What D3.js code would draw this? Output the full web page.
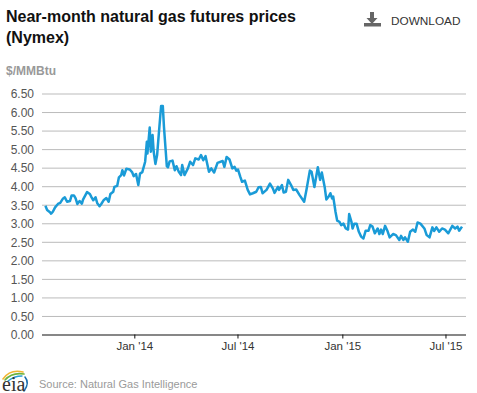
<!DOCTYPE html>
<html><head><meta charset="utf-8">
<script src="https://cdn.jsdelivr.net/npm/d3@7"></script>
<style>html,body{margin:0;padding:0;background:#fff;overflow:hidden}svg{display:block;font-family:"Liberation Sans",Arial,sans-serif}</style>
</head><body><svg id="c" width="477" height="393"></svg>
<script>
const titleLines=["Near-month natural gas futures prices","(Nymex)"];
const unitLabel="$/MMBtu";
const sourceLabel="Source: Natural Gas Intelligence";
const seriesStart="2013-07-29";
const dayOffsets=[0,3,8,10,13,17,22,26,31,34,38,43,46,50,53,56,60,64,66,73,78,81,84,88,91,95,98,102,107,111,114,119,121,126,129,133,135,138,142,148,152,155,159,163,166,170,175,178,179,183,185,188,190,193,196,199,203,206,208,211,213,215,218,223,227,230,234,
238,240,244,250,254,259,263,269,273,277,281,287,291,296,302,311,314,318,323,328,332,335,338,342,345,350,355,359,364,370,374,378,381,388,394,399,402,408,410,415,418,422,426,431,435,440,446,454,458,464,467,472,478,482,485,490,493,497,500,503,505,509,512,516,
519,523,527,531,533,537,539,542,546,550,554,558,562,567,570,574,578,583,586,589,592,596,600,604,610,615,621,624,628,631,636,640,645,649,653,658,665,669,674,679,682,686,691,696,701,707,714,719,723,726,731];
const prices=[3.47,3.36,3.30,3.26,3.31,3.43,3.52,3.55,3.67,3.70,3.58,3.60,3.75,3.75,3.67,3.52,3.60,3.53,3.64,3.84,3.79,3.70,3.62,3.70,3.54,3.46,3.52,3.62,3.68,3.58,3.79,3.85,3.98,4.01,4.24,4.30,4.43,4.29,4.47,4.45,4.38,4.27,4.33,4.03,4.34,4.38,4.66,5.20,4.88,5.58,4.93,5.38,4.93,4.60,4.84,5.42,6.16,6.16,5.60,4.97,4.54,4.51,4.67,4.69,4.43,4.54,4.39,
4.30,4.57,4.30,4.48,4.66,4.57,4.75,4.72,4.84,4.70,4.81,4.39,4.48,4.37,4.63,4.68,4.52,4.79,4.72,4.48,4.52,4.42,4.45,4.25,4.12,4.15,3.90,3.78,3.81,3.85,3.97,3.98,3.81,3.90,4.07,3.94,3.82,3.98,3.90,4.03,3.83,3.85,4.17,4.03,3.90,3.91,3.76,3.58,3.90,4.42,4.39,3.98,4.51,4.17,4.37,3.98,3.64,3.72,3.81,3.67,3.72,3.31,3.07,3.04,
2.95,2.99,2.86,2.83,3.25,3.04,2.86,2.99,2.99,2.77,2.64,2.59,2.80,2.80,2.95,2.91,2.73,2.86,2.71,2.83,2.71,2.93,2.80,2.62,2.71,2.68,2.55,2.66,2.55,2.62,2.50,2.77,2.83,2.77,3.02,2.99,2.86,2.68,2.62,2.89,2.79,2.89,2.77,2.86,2.83,2.73,2.93,2.86,2.91,2.80,2.91];
const yTicks=[0,0.5,1,1.5,2,2.5,3,3.5,4,4.5,5,5.5,6,6.5];
const xTickDates=["2014-01-01","2014-07-01","2015-01-01","2015-07-01"];
const xDomain=["2013-07-23","2015-08-06"];

const parse=d3.utcParse("%Y-%m-%d");
const start=parse(seriesStart);
const points=dayOffsets.map((d,i)=>({date:d3.utcDay.offset(start,d),value:prices[i]}));
const svg=d3.select("#c");
const x=d3.scaleUtc().domain(xDomain.map(parse)).range([42,466]);
const y=d3.scaleLinear().domain([0,6.5]).range([334.5,93.5]);

svg.append("g").attr("font-weight","bold").attr("font-size",16).attr("fill","#111")
  .selectAll("text").data(titleLines).join("text").attr("x",6).attr("y",(d,i)=>22+i*20.5).text(d=>d);
svg.append("text").attr("x",6).attr("y",75).attr("font-size",12).attr("font-weight","bold").attr("fill","#999").text(unitLabel);

const gy=svg.append("g").attr("transform","translate(42,0)")
  .call(d3.axisLeft(y).tickValues(yTicks).tickSize(-424).tickPadding(8).tickFormat(d3.format(".2f")));
gy.select(".domain").remove();
gy.selectAll("line").attr("stroke",d=>d===0?"#111":"#bbb").attr("stroke-width",d=>d===0?1.2:1);
gy.selectAll("text").attr("font-size",12).attr("font-family","inherit").attr("fill","#555").attr("dy","0.36em");

const gx=svg.append("g").attr("transform","translate(0,334.5)")
  .call(d3.axisBottom(x).tickValues(xTickDates.map(parse)).tickSize(4).tickPadding(3).tickFormat(d3.utcFormat("%b '%y")));
gx.select(".domain").remove();
gx.selectAll("line").attr("stroke","#111");
gx.selectAll("text").attr("font-size",11.5).attr("font-family","inherit").attr("fill","#333");

svg.append("path").datum(points).attr("fill","none").attr("stroke","#1a9bd7").attr("stroke-width",2.5)
  .attr("stroke-linejoin","round")
  .attr("d",d3.line().x(d=>x(d.date)).y(d=>y(d.value)));

// download icon and label
const dl=svg.append("g").attr("fill","#666");
dl.append("path").attr("d","M370 12h4v6h3.5l-5.5 6-5.5-6h3.5z");
dl.append("rect").attr("x",364).attr("y",23).attr("width",17).attr("height",3.5);
svg.append("text").attr("x",391).attr("y",25).attr("font-size",11.8).attr("fill","#333").text("DOWNLOAD");

// eia logo
const logo=svg.append("g").attr("fill","none").attr("stroke-linecap","round");
logo.append("path").attr("d","M3 379Q10 369 23 372").attr("stroke","#f2b632").attr("stroke-width",1.6);
logo.append("path").attr("d","M5 380Q12 372 24 374").attr("stroke","#6db33f").attr("stroke-width",1.6);
logo.append("path").attr("d","M8 381Q14 376 22 376").attr("stroke","#2a9fd6").attr("stroke-width",1.3);
logo.append("path").attr("d","M25 377Q30 383 24 391").attr("stroke","#1a6fb0").attr("stroke-width",1.6);
svg.append("text").attr("x",2).attr("y",390.5).attr("font-family","'Liberation Serif',serif").attr("font-size",20).attr("fill","#333").text("eia");
svg.append("text").attr("x",39).attr("y",388).attr("font-size",11).attr("fill","#9a9a9a").text(sourceLabel);
</script></body></html>
